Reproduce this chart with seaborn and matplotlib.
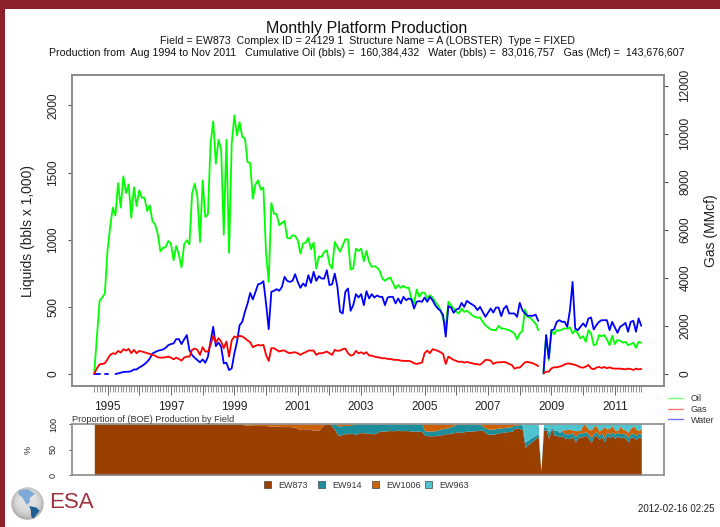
import numpy as np
import pandas as pd
import matplotlib
matplotlib.use('Agg')
import matplotlib.pyplot as plt
from matplotlib.patches import Rectangle, Patch, Polygon, Circle
from matplotlib.lines import Line2D
import seaborn as sns

nan = float('nan')

# monthly values, Aug 1994 - Nov 2011
oil = [17, 277, 545, 570, 600,
       920, 1095, 1239, 1182, 1422, 1239, 1472, 1348, 1412, 1164, 1392, 1251,
       1368, 1313, 1313, 1214, 1256, 1137, 1115, 1045, 914, 939, 946, 991,
       971, 847, 954, 889, 793, 966, 996, 966, 1343, 1417, 1323, 983,
       1442, 1169, 1189, 1715, 1883, 1566, 1744, 1677, 1038, 1744, 902, 1715,
       1925, 1776, 1876, 1764, 1757, 1578, 1571, 1306, 1412, 1442, 1373, 1387,
       897, 686, 1273, 1195, 1190, 1108, 1125, 1140, 1014, 1009, 1033, 1028,
       996, 897, 972, 979, 1014, 929, 979, 786, 877, 872, 910, 922,
       818, 786, 984, 947, 910, 959, 1004, 1001, 778, 786, 934, 917,
       934, 840, 917, 835, 798, 803, 793, 768, 711, 694, 711, 719,
       679, 637, 662, 642, 657, 642, 644, 563, 526, 630, 575, 607,
       605, 563, 587, 570, 538, 513, 476, 414, 350, 538, 513, 488,
       464, 451, 488, 463, 471, 456, 438, 426, 419, 421, 389, 364,
       347, 332, 327, 327, 359, 339, 339, 332, 327, 315, 302, 258,
       302, 320, 481, 426, 419, 396, 377, 327, nan, 5, 290, 104,
       327, 297, 327, 322, 332, 339, 339, 347, 302, 327, 302, 265,
       282, 240, 327, 302, 215, 223, 290, 282, 290, 258, 215, 285,
       223, 253, 248, 233, 240, 215, 223, 233, 196, 240, 233]

water = [0, 0, 0, nan, 0,
         0, nan, nan, 0, 5, 10, 15, 17, 17, 22, 34, 34,
         49, 59, 74, 91, 116, 153, 163, 173, 178, 183, 195, 215,
         223, 228, 260, 260, 223, 258, 290, 178, 141, 121, 104, 87,
         109, 84, 129, 240, 352, 208, 235, 203, 79, 84, 29, 42,
         153, 240, 364, 389, 463, 525, 604, 555, 612, 669, 674, 691,
         525, 334, 612, 620, 632, 620, 649, 724, 694, 686, 694, 744,
         686, 642, 674, 654, 736, 679, 761, 694, 729, 711, 711, 773,
         662, 669, 748, 649, 464, 451, 612, 637, 471, 513, 595, 570,
         595, 513, 617, 563, 595, 570, 585, 575, 575, 513, 570, 575,
         575, 526, 563, 526, 575, 550, 563, 555, 488, 538, 543, 538,
         570, 538, 575, 550, 513, 488, 471, 439, 278, 506, 496, 456,
         481, 488, 530, 500, 545, 530, 518, 505, 476, 500, 463, 426,
         456, 488, 458, 495, 495, 431, 488, 508, 451, 451, 451, 426,
         530, 476, 451, 434, 434, 434, 443, 396, nan, 5, 290, 116,
         327, 332, 389, 401, 389, 389, 352, 476, 686, 339, 327, 352,
         377, 352, 414, 421, 332, 364, 389, 401, 401, 401, 327, 389,
         347, 307, 352, 364, 381, 315, 389, 396, 315, 414, 359]

gas = [25, 235, 402, 416, 444,
       611, 793, 863, 835, 960, 890, 1030, 974, 1044, 863, 1002, 863,
       960, 932, 904, 863, 835, 793, 765, 695, 681, 681, 695, 723,
       681, 611, 681, 625, 556, 681, 723, 723, 1002, 1058, 1002, 793,
       1114, 932, 932, 1211, 1588, 1309, 1490, 1351, 1072, 1351, 723, 1393,
       1560, 1518, 1588, 1560, 1490, 1393, 1323, 1114, 1170, 1211, 1184, 1211,
       793, 542, 1072, 1072, 1003, 933, 975, 975, 905, 863, 891, 905,
       863, 794, 863, 905, 975, 975, 975, 794, 863, 863, 891, 933,
       863, 794, 1003, 961, 975, 1031, 1059, 863, 766, 794, 961, 863,
       905, 836, 905, 766, 766, 724, 696, 682, 654, 654, 626, 626,
       598, 584, 584, 557, 543, 543, 543, 515, 445, 417, 445, 473,
       863, 975, 863, 1031, 1003, 961, 905, 836, 417, 724, 654, 584,
       543, 501, 515, 473, 501, 473, 445, 417, 403, 389, 473, 584,
       584, 557, 417, 473, 487, 487, 501, 473, 417, 375, 222, 264,
       264, 375, 487, 501, 473, 445, 389, 333, nan, 26, 96, 96,
       236, 278, 278, 305, 333, 403, 431, 431, 403, 375, 333, 278,
       264, 305, 375, 236, 194, 264, 292, 250, 292, 236, 278, 236,
       222, 222, 222, 208, 194, 222, 208, 166, 222, 194, 208]

# share of BOE production by field, percent
ew873 = [100] * 5 + [100] * 48 + [
    100, 100, 100, 99, 98, 98, 98, 97, 97, 97, 97, 97,
    97, 96, 96, 96, 96, 96, 95, 95, 95, 95, 94, 94,
    91, 90, 91, 90, 91, 89, 88, 88, 88, 94, 99, 99,
    100, 95, 89, 79, 78, 80, 81, 81, 82, 81, 79, 83,
    83, 83, 82, 82, 81, 81, 83, 86, 86, 86, 87, 87,
    87, 87, 88, 87, 87, 87, 87, 86, 86, 86, 86, 85,
    78, 77, 77, 77, 77, 78, 79, 79, 81, 81, 82, 83,
    84, 85, 83, 85, 86, 86, 86, 87, 87, 88, 88, 83,
    80, 80, 80, 81, 83, 83, 84, 85, 85, 86, 91, 92,
    91, 89, 54, 59, 63, 67, 72, 75, 8, 88, 88, 72,
    91, 78, 78, 75, 77, 72, 72, 72, 75, 65, 73, 75,
    75, 78, 72, 64, 75, 78, 70, 75, 65, 78, 73, 77,
    72, 77, 73, 75, 72, 65, 75, 74, 70, 75, 72]
ew914 = [0] * 5 + [0] * 84 + [
    0, 5, 11, 18, 18, 17, 16, 16, 15, 19, 21, 17,
    17, 17, 18, 18, 19, 19, 17, 14, 14, 14, 13, 13,
    13, 13, 12, 13, 13, 13, 13, 14, 14, 14, 14, 15,
    9, 9, 9, 9, 10, 10, 11, 12, 11, 12, 13, 14,
    15, 14, 16, 14, 13, 13, 13, 12, 12, 11, 8, 9,
    10, 10, 10, 10, 9, 9, 9, 9, 9, 9, 7, 5,
    9, 8, 11, 9, 9, 8, 6, 6, 0, 5, 6, 12,
    3, 10, 10, 9, 9, 9, 9, 9, 8, 10, 8, 8,
    8, 7, 8, 9, 7, 7, 8, 7, 9, 7, 7, 7,
    8, 7, 8, 7, 8, 9, 7, 8, 8, 7, 8]
ew1006 = [0] * 5 + [0] * 48 + [
    0, 0, 0, 1, 2, 2, 2, 3, 3, 3, 3, 3,
    3, 4, 4, 4, 4, 4, 5, 5, 5, 5, 6, 6,
    9, 10, 9, 10, 9, 11, 12, 12, 12, 6, 1, 1,
    0, 0, 0, 3, 4, 3, 3, 3, 3, 0, 0, 0] + [0] * 24 + [
    13, 14, 14, 14, 13, 12, 10, 9, 8, 7, 5, 3,
    1, 1, 1, 1, 1, 1, 1, 1, 1, 1, 4, 8,
    10, 10, 10, 9, 8, 8, 7, 6, 6, 5, 2, 3,
    0, 0, 0, 0, 0, 0, 0, 0, 0, 0, 0, 0,
    0, 0, 0, 0, 2, 8, 8, 9, 5, 12, 6, 5,
    17, 12, 10, 15, 13, 12, 8, 8, 21, 5, 12, 13,
    8, 3, 15, 8, 8, 10, 10, 15, 12, 5, 12]
ew963 = [0] * 5 + [0] * 156 + [
    0, 3, 35, 32, 28, 25, 22, 19, 0, 7, 6, 16,
    6, 12, 12, 16, 12, 11, 11, 10, 12, 13, 13, 12,
    0, 3, 10, 12, 5, 3, 14, 10, 5, 10, 8, 3,
    12, 13, 4, 10, 12, 16, 8, 3, 10, 13, 8]

fields = ['EW873', 'EW914', 'EW1006', 'EW963']
field_colors = ['#994000', '#1C8E9C', '#CC6105', '#4FC4CF']
field_legend_x = [264, 318, 372, 425]
left_ticks = [0, 500, 1000, 1500, 2000]
right_ticks = [0, 2000, 4000, 6000, 8000, 10000, 12000]
year_labels = [1995, 1997, 1999, 2001, 2003, 2005, 2007, 2009, 2011]

W, H = 720, 527
GRAY = '#8a8a8a'
DARK = '#222222'

sns.set_theme(style='white')
plt.rcParams['font.family'] = ['Liberation Sans', 'DejaVu Sans']

t = 1994 + 7 / 12 + np.arange(len(oil)) / 12
df = pd.DataFrame({'t': t, 'oil': oil, 'water': water, 'gas': gas,
                   'ew873': ew873, 'ew914': ew914, 'ew1006': ew1006, 'ew963': ew963})


def box(l, t_, r, b):
    return [l / W, 1 - b / H, (r - l) / W, (b - t_) / H]


def draw(ax, col, color):
    # a gap in the series breaks the line
    d = df[['t', col]].copy()
    d['seg'] = d[col].isna().cumsum()
    d = d.dropna()
    sns.lineplot(data=d, x='t', y=col, units='seg', estimator=None, color=color,
                 lw=1.3, ax=ax, legend=False)


def style_spines(ax):
    for s in ax.spines.values():
        s.set_visible(True)
        s.set_color(GRAY)
        s.set_linewidth(1.2)


fig = plt.figure(figsize=(7.2, 5.27), dpi=100, facecolor='white')
xlim = (1993.88, 2012.55)

# main panel
ax = fig.add_axes(box(72, 75.5, 664, 386))
draw(ax, 'oil', '#00ff00')
draw(ax, 'water', '#0000ff')
ax.set_xlim(xlim)
ax.set_ylim(-89, 2223)
ax.set_yticks(left_ticks)
ax.set_yticklabels(left_ticks, rotation=90, va='center', fontsize=8.6, color=DARK)
ax.tick_params(axis='y', length=3, width=0.8, color='#555555', pad=6, left=True)
ax.set_xticks(np.arange(1995, 2012))
ax.set_xticklabels([str(y) if y in year_labels else '' for y in range(1995, 2012)],
                   fontsize=8.6, color=DARK)
ax.set_xticks(t, minor=True)
ax.tick_params(axis='x', which='major', length=6.5, width=0.7, color='#666666', pad=4, bottom=True)
ax.tick_params(axis='x', which='minor', length=4.5, width=0.5, color='#666666', bottom=True)
ax.set_xlabel('')
ax.set_ylabel('Liquids (bbls x 1,000)', fontsize=10, color=DARK, labelpad=9)
style_spines(ax)

ax_gas = ax.twinx()
draw(ax_gas, 'gas', '#ff0000')
ax_gas.set_xlim(xlim)
ax_gas.set_ylim(-500, 12417)
ax_gas.set_yticks(right_ticks)
ax_gas.set_yticklabels(right_ticks, rotation=90, va='center', fontsize=8.6, color=DARK)
ax_gas.tick_params(axis='y', length=3, width=0.8, color='#555555', pad=8, right=True)
ax_gas.set_ylabel('Gas (MMcf)', fontsize=10, color=DARK, labelpad=9)
style_spines(ax_gas)

# proportion panel
ax2 = fig.add_axes(box(72, 424, 664, 475))
ax2.stackplot(df['t'], df['ew873'], df['ew914'], df['ew1006'], df['ew963'],
              colors=field_colors, lw=0)
ax2.set_xlim(xlim)
ax2.set_ylim(0, 100)
ax2.set_xticks([])
ax2.set_yticks([0, 50, 100])
ax2.set_yticklabels([0, 50, 100], rotation=90, va='center', fontsize=6.5, color=DARK)
ax2.tick_params(axis='y', length=2, width=0.7, color='#555555', pad=8, left=True)
ax2.set_ylabel('%', fontsize=6.5, color=DARK, labelpad=12)
style_spines(ax2)
ax2.set_title('Proportion of (BOE) Production by Field', loc='left', fontsize=6.6,
              color='#333333', pad=1.5)

# titles
fig.text(367 / W, 1 - 28 / H, 'Monthly Platform Production', ha='center', va='center',
         fontsize=11.5, color='#111111')
fig.text(367 / W, 1 - 41 / H, 'Field = EW873  Complex ID = 24129 1  Structure Name = A (LOBSTER)  Type = FIXED',
         ha='center', va='center', fontsize=7.65, color='#111111')
fig.text(367 / W, 1 - 53 / H,
         'Production from  Aug 1994 to Nov 2011   Cumulative Oil (bbls) =  160,384,432   '
         'Water (bbls) =  83,016,757   Gas (Mcf) =  143,676,607',
         ha='center', va='center', fontsize=7.65, color='#111111')

# legends
line_handles = [Line2D([], [], color=c, lw=1, alpha=0.55) for c in ['#00ff00', '#ff0000', '#0000ff']]
fig.legend(line_handles, ['Oil', 'Gas', 'Water'], loc='upper left', bbox_to_anchor=(668 / W, 1 - 394 / H),
           frameon=False, fontsize=6.5, labelspacing=0.2, handlelength=1.7, handletextpad=0.8,
           borderpad=0, borderaxespad=0, labelcolor='#333333')
for name, color, x in zip(fields, field_colors, field_legend_x):
    h = Patch(facecolor=color, edgecolor='#444444', lw=0.5)
    fig.legend([h], [name], loc='center left', bbox_to_anchor=(x / W, 1 - 485 / H),
               frameon=False, fontsize=6.5, handlelength=0.8, handleheight=0.8, handletextpad=0.8,
               borderpad=0, borderaxespad=0, labelcolor='#333333')

fig.text(715 / W, 1 - 509 / H, '2012-02-16 02:25', ha='right', va='center', fontsize=7, color='#222222')

# page border
fig.patches.append(Rectangle((0, 1 - 9 / H), 1, 9 / H, transform=fig.transFigure, color='#8E1F2D', lw=0))
fig.patches.append(Rectangle((0, 0), 5 / W, 1, transform=fig.transFigure, color='#8E1F2D', lw=0))

# logo
logo = fig.add_axes(box(11, 487, 44, 520))
logo.axis('off')
logo.set_xlim(-1.02, 1.02)
logo.set_ylim(-1.02, 1.02)
gx, gy = np.meshgrid(np.linspace(-1, 1, 80), np.linspace(-1, 1, 80))
shade = 0.88 - 0.2 * (gx ** 2 + gy ** 2) ** 2 + 0.06 * gy
im = logo.imshow(np.clip(shade, 0, 1), extent=(-1, 1, -1, 1), origin='lower', cmap='gray', vmin=0, vmax=1)
im.set_clip_path(Circle((0, 0), 1, transform=logo.transData))
logo.add_patch(Polygon([(-0.55, 0.8), (0.0, 0.9), (0.45, 0.6), (0.15, 0.35), (0.15, 0.1), (-0.05, -0.1),
                        (-0.3, 0.35), (-0.55, 0.55)], color='#7FA9D6', lw=0))
logo.add_patch(Polygon([(0.1, -0.15), (0.55, -0.25), (0.75, -0.45), (0.35, -0.95), (0.22, -0.75), (0.2, -0.4)],
                       color='#1F5F96', lw=0))
fig.text(49 / W, 1 - 503 / H, 'ESA', ha='left', va='center', fontsize=16, color='#A3303F')

fig.savefig('out.png', dpi=100, facecolor='white')
